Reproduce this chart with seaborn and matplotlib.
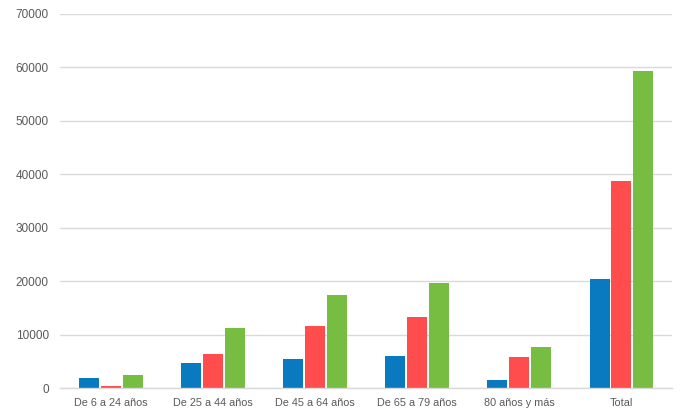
import matplotlib
matplotlib.use("Agg")
import matplotlib.pyplot as plt
import seaborn as sns
import pandas as pd
import numpy as np

categories = ["De 6 a 24 años", "De 25 a 44 años", "De 45 a 64 años",
              "De 65 a 79 años", "80 años y más", "Total"]
series_names = ["Serie 1", "Serie 2", "Serie 3"]
serie1 = [1800, 4700, 5400, 6000, 1550, 20450]
serie2 = [450, 6350, 11650, 13350, 5800, 38750]
serie3 = [2500, 11300, 17400, 19600, 7650, 59350]
yticks = [0, 10000, 20000, 30000, 40000, 50000, 60000, 70000]

colors = ["#0A7AC0", "#FF4C4C", "#77BD42"]

rows = []
for name, vals in zip(series_names, [serie1, serie2, serie3]):
    for c, v in zip(categories, vals):
        rows.append({"cat": c, "serie": name, "valor": v})
df = pd.DataFrame(rows)

sns.set_style("white")
plt.rcParams['font.family'] = ['Liberation Sans', 'DejaVu Sans']

fig = plt.figure(figsize=(6.96, 4.2), dpi=100)
ax = fig.add_axes([0.086, 0.076, 0.880, 0.891])

sns.barplot(data=df, x="cat", y="valor", hue="serie", order=categories,
            hue_order=series_names, palette=colors, width=0.64, gap=0.08,
            saturation=1, legend=False, ax=ax, linewidth=0)

ax.set_ylim(0, 70000)
ax.set_xlim(-0.5, len(categories) - 0.5)
ax.set_yticks(yticks)
ax.set_yticklabels([str(t) for t in yticks])
ax.yaxis.grid(True, color="#D9D9D9", linewidth=1)
ax.set_axisbelow(True)
for s in ["top", "right", "left"]:
    ax.spines[s].set_visible(False)
ax.spines["bottom"].set_color("#D9D9D9")
ax.spines["bottom"].set_linewidth(1)

ax.set_xlabel("")
ax.set_ylabel("")
ax.tick_params(axis="y", length=0, pad=8, labelsize=8.5, labelcolor="#595959")
ax.tick_params(axis="x", which="major", length=0, pad=7, labelsize=7.8, labelcolor="#595959")
ax.set_xticks(np.arange(-0.5, len(categories), 1.0), minor=True)
ax.tick_params(axis="x", which="minor", length=4, color="#D9D9D9", width=1)

fig.savefig("out.png", dpi=100)
